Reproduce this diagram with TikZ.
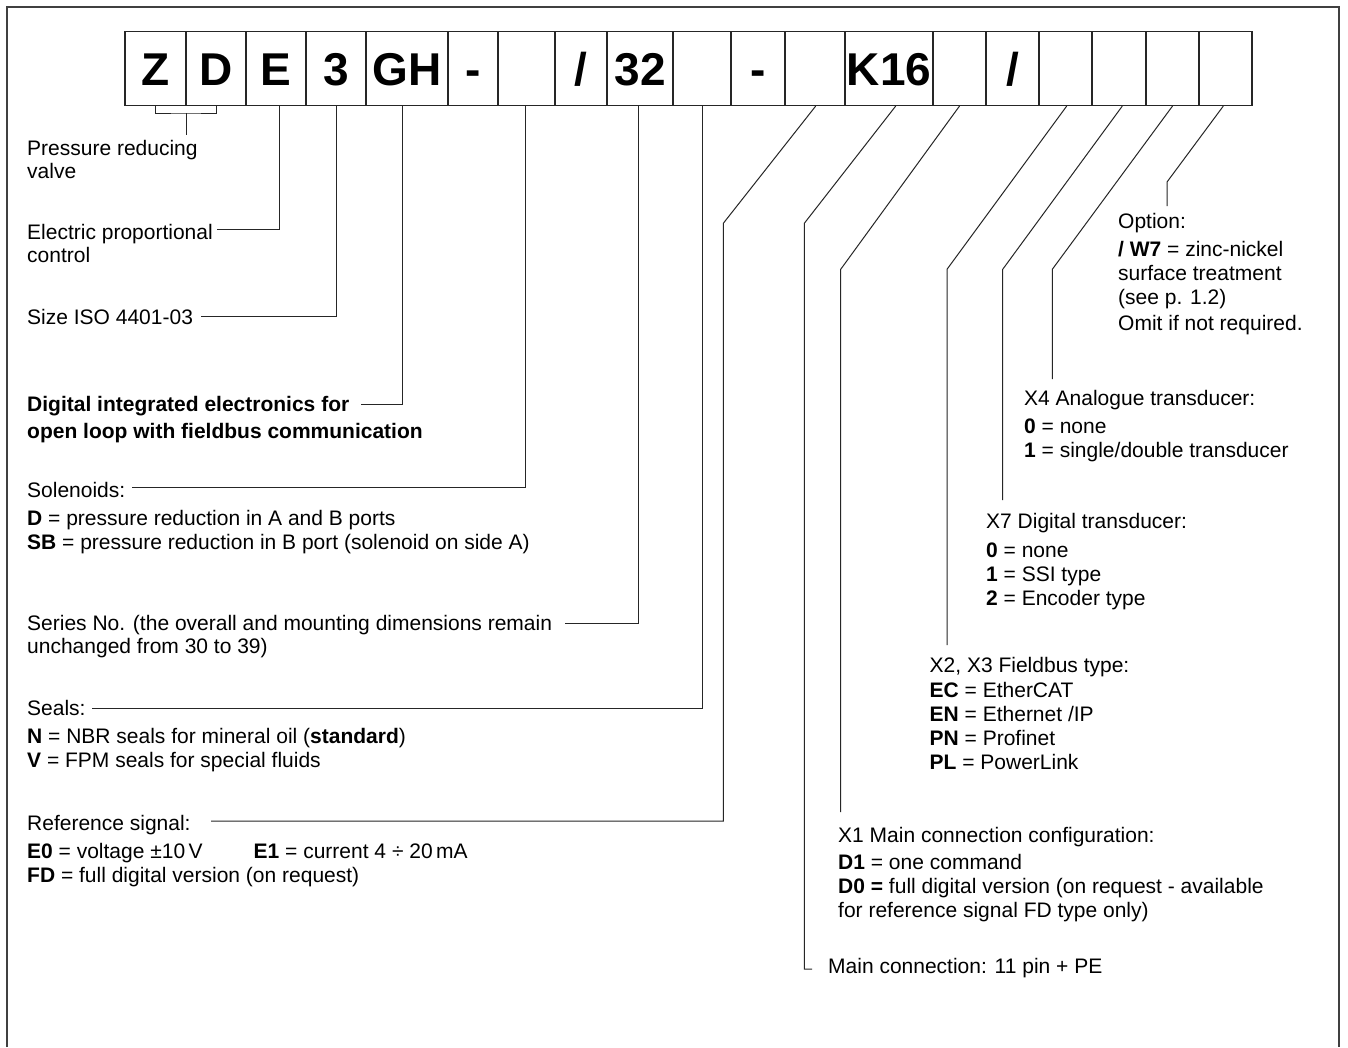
\documentclass[tikz,border=0pt]{standalone}
\usepackage{fontspec}
\setmainfont{Liberation Sans}
\begin{document}
\begin{tikzpicture}[x=1pt,y=-1pt,
  lbl/.style={anchor=base west, inner sep=0pt, font=\fontsize{21}{24}\selectfont},
  blbl/.style={lbl, font=\fontsize{21}{24}\selectfont\bfseries},
  box/.style={draw=black!85, line width=1.1pt, fill=white, inner sep=0pt,
    minimum height=74pt, text height=33pt, text depth=0pt,
    font=\fontsize{46}{50}\selectfont\bfseries},
  conn/.style={draw=black!85, line width=1pt},
  framestyle/.style={draw=black!75, line width=1.2pt}]
\useasboundingbox (0,0) rectangle (1348,1047);
\fill[white] (0,0) rectangle (1348,1047);
\draw[framestyle] (7,1047) -- (7,7) -- (1339,7) -- (1339,1047);

% code boxes
\node[box, minimum width=61pt] (b1) at (155.5,68.5) {Z};
\node[box, minimum width=60pt] (b2) at (216,68.5) {D};
\node[box, minimum width=60pt] (b3) at (276,68.5) {E};
\node[box, minimum width=60pt] (b4) at (336,68.5) {3};
\node[box, minimum width=82pt] (b5) at (407,68.5) {GH};
\node[box, minimum width=50pt] (b6) at (473,68.5) {-};
\node[box, minimum width=57pt] (b7) at (526.5,68.5) {};
\node[box, minimum width=52pt] (b8) at (581,68.5) {/};
\node[box, minimum width=66pt] (b9) at (640,68.5) {32};
\node[box, minimum width=58pt] (b10) at (702,68.5) {};
\node[box, minimum width=54pt] (b11) at (758,68.5) {-};
\node[box, minimum width=60pt] (b12) at (815,68.5) {};
\node[box, minimum width=88pt] (b13) at (889,68.5) {K16};
\node[box, minimum width=53pt] (b14) at (959.5,68.5) {};
\node[box, minimum width=53pt] (b15) at (1012.5,68.5) {/};
\node[box, minimum width=53pt] (b16) at (1065.5,68.5) {};
\node[box, minimum width=54pt] (b17) at (1119,68.5) {};
\node[box, minimum width=53pt] (b18) at (1172.5,68.5) {};
\node[box, minimum width=53pt] (b19) at (1225.5,68.5) {};

% left labels
\node[lbl] (pr1) at (27,155) {Pressure reducing};
\node[lbl] (pr2) at (27,178.5) {valve};
\node[lbl] (el1) at (27,239) {Electric proportional};
\node[lbl] (el2) at (27,262.5) {control};
\node[lbl] (sz) at (27,324.5) {Size ISO 4401-03};
\node[blbl] (dg1) at (27,411) {Digital integrated electronics for};
\node[blbl] (dg2) at (27,438.5) {open loop with fieldbus communication};
\node[lbl] (so) at (27,497.5) {Solenoids:};
\node[lbl] (so1) at (27,525) {\textbf{D} = pressure reduction in A and B ports};
\node[lbl] (so2) at (27,549) {\textbf{SB} = pressure reduction in B port (solenoid on side A)};
\node[lbl] (se1) at (27,630) {Series No. (the overall and mounting dimensions remain};
\node[lbl] (se2) at (27,653.5) {unchanged from 30 to 39)};
\node[lbl] (sl) at (27,715.5) {Seals:};
\node[lbl] (sl1) at (27,743.5) {\textbf{N} = NBR seals for mineral oil (\textbf{standard})};
\node[lbl] (sl2) at (27,767.5) {\textbf{V} = FPM seals for special fluids};
\node[lbl] (rf) at (27,830) {Reference signal:};
\node[lbl] (rf1) at (27,858) {\textbf{E0} = voltage ±10\,V};
\node[lbl] (rf1b) at (253.5,858) {\textbf{E1} = current 4 ÷ 20\,mA};
\node[lbl] (rf2) at (27,882) {\textbf{FD} = full digital version (on request)};

% right labels
\node[lbl] (op) at (1118,228.5) {Option:};
\node[lbl] (op1) at (1118,256) {\textbf{/ W7} = zinc-nickel};
\node[lbl] (op2) at (1118,280) {surface treatment};
\node[lbl] (op3) at (1118,304) {(see p. 1.2)};
\node[lbl] (op4) at (1118,330) {Omit if not required.};
\node[lbl] (xa) at (1024,405) {X4 Analogue transducer:};
\node[lbl] (xa1) at (1024,433) {\textbf{0} = none};
\node[lbl] (xa2) at (1024,457) {\textbf{1} = single/double transducer};
\node[lbl] (xd) at (986,528) {X7 Digital transducer:};
\node[lbl] (xd1) at (986,557) {\textbf{0} = none};
\node[lbl] (xd2) at (986,581) {\textbf{1} = SSI type};
\node[lbl] (xd3) at (986,605) {\textbf{2} = Encoder type};
\node[lbl] (fb) at (929.5,672) {X2, X3 Fieldbus type:};
\node[lbl] (fb1) at (929.5,697) {\textbf{EC} = EtherCAT};
\node[lbl] (fb2) at (929.5,721) {\textbf{EN} = Ethernet /IP};
\node[lbl] (fb3) at (929.5,745) {\textbf{PN} = Profinet};
\node[lbl] (fb4) at (929.5,769) {\textbf{PL} = PowerLink};
\node[lbl] (mc) at (838,842) {X1 Main connection configuration:};
\node[lbl] (mc1) at (838,869) {\textbf{D1} = one command};
\node[lbl] (mc2) at (838,893) {\textbf{D0 =} full digital version (on request - available};
\node[lbl] (mc3) at (838,917) {for reference signal FD type only)};
\node[lbl] (mn) at (828,973) {Main connection: 11 pin + PE};

% connector end points
\coordinate (brk) at (186,113);
\coordinate (eEl) at (217,229);
\coordinate (eSz) at (201,316);
\coordinate (eDg) at (361,404);
\coordinate (eSo) at (132,487);
\coordinate (eSe) at (565,623);
\coordinate (eSl) at (92,708);
\coordinate (kRf) at (723.3,223.3);
\coordinate (eRf) at (211,821);
\coordinate (kMn) at (804.3,223.3);
\coordinate (eMn) at (812,969);
\coordinate (kMc) at (840.7,269.3);
\coordinate (eMc) at (840.7,812);
\coordinate (kFb) at (947,269.3);
\coordinate (eFb) at (947,645);
\coordinate (kXd) at (1002.7,269.3);
\coordinate (eXd) at (1002.7,500);
\coordinate (kXa) at (1052.3,269.3);
\coordinate (eXa) at (1052.3,379);
\coordinate (kOp) at (1167,182);
\coordinate (eOp) at (1167,206);

% connectors
\draw[conn] (b1.south) |- (brk) -| (b2.south);
\draw[conn] (brk) -- ++(0,22);
\draw[conn] ([xshift=3pt]b3.south) |- (eEl);
\draw[conn] (b4.south) |- (eSz);
\draw[conn] ([xshift=-5pt]b5.south) |- (eDg);
\draw[conn] ([xshift=-1pt]b7.south) |- (eSo);
\draw[conn] ([xshift=-1.5pt]b9.south) |- (eSe);
\draw[conn] (b10.south) |- (eSl);
\draw[conn] ([xshift=0.7pt]b12.south) -- (kRf) |- (eRf);
\draw[conn] ([xshift=6.7pt]b13.south) -- (kMn) |- (eMn);
\draw[conn] (b14.south) -- (kMc) -- (eMc);
\draw[conn] ([xshift=1.2pt]b16.south) -- (kFb) -- (eFb);
\draw[conn] ([xshift=3.3pt]b17.south) -- (kXd) -- (eXd);
\draw[conn] (b18.south) -- (kXa) -- (eXa);
\draw[conn] ([xshift=-2.2pt]b19.south) -- (kOp) -- (eOp);
\end{tikzpicture}
\end{document}
